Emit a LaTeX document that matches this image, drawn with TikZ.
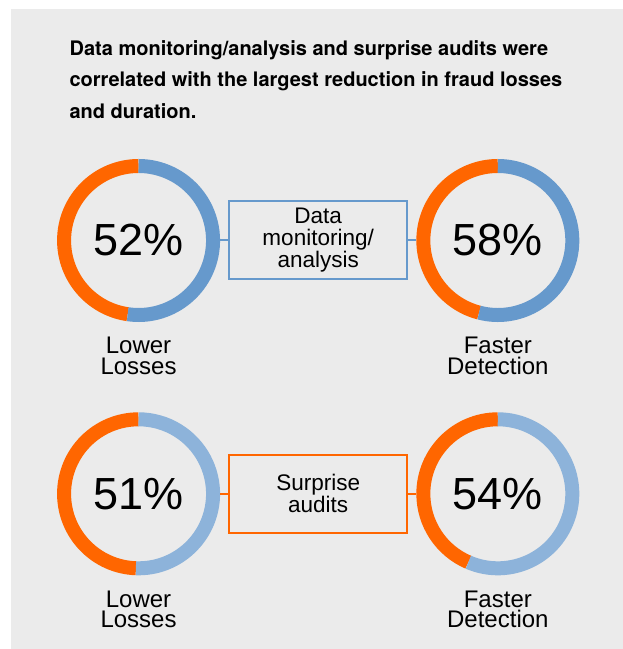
\documentclass[tikz,border=0pt]{standalone}
\usepackage{fontspec}
\setmainfont{Liberation Sans}
\newfontfamily\headfont{TeX Gyre Heros}
\usepackage{xcolor}
\definecolor{colorBack}{HTML}{EBEBEB}
\definecolor{colorOrange}{HTML}{FF6600}
\definecolor{colorBlue}{HTML}{6699CC}
\definecolor{colorLightBlue}{HTML}{8DB3DA}
\usetikzlibrary{positioning}
\tikzset{ring/.style={circle, minimum size=122.25pt, inner sep=0pt, font=\fontsize{33.75pt}{40pt}\selectfont}}

\begin{document}
\begin{tikzpicture}[x=0.75pt, y=0.75pt, box/.style={draw, line width=1.5pt, minimum width=133.3pt, minimum height=58.5pt, inner sep=0pt, align=center, font=\fontsize{16.9pt}{16.5pt}\selectfont}, lbl/.style={inner sep=0pt, align=center, font=\fontsize{18pt}{15.6pt}\selectfont}, arc/.style={line width=10.5pt}, link/.style={line width=1.5pt}]
\useasboundingbox (0,0) rectangle (623,649);
\fill[colorBack] (11,0) rectangle (623,640);
\node[anchor=north west, inner sep=0pt, align=left, font=\headfont\bfseries\fontsize{15pt}{23.8pt}\selectfont] (title) at (69.3,609) {Data monitoring/analysis and surprise audits were\\correlated with the largest reduction in fraud losses\\and duration.};
\node[box, draw=colorBlue] (b1) at (318.2,408.5) {Data\\monitoring/\\analysis};
\node[box, draw=colorOrange] (b2) at (318.2,155.2) {Surprise\\audits};
\node[ring, left=6pt of b1] (r11) {52\%};
\node[ring, right=6pt of b1] (r12) {58\%};
\node[ring, left=6pt of b2] (r21) {51\%};
\node[ring, right=6pt of b2] (r22) {54\%};
\draw[arc, colorOrange] ([shift={(90:74.5)}]r11.center) arc[start angle=90, end angle=261.6, radius=74.5];
\draw[arc, colorBlue] ([shift={(261.6:74.5)}]r11.center) arc[start angle=261.6, end angle=450, radius=74.5];
\draw[arc, colorOrange] ([shift={(90:74.5)}]r12.center) arc[start angle=90, end angle=255.4, radius=74.5];
\draw[arc, colorBlue] ([shift={(255.4:74.5)}]r12.center) arc[start angle=255.4, end angle=450, radius=74.5];
\draw[arc, colorOrange] ([shift={(90:74.5)}]r21.center) arc[start angle=90, end angle=268, radius=74.5];
\draw[arc, colorLightBlue] ([shift={(268:74.5)}]r21.center) arc[start angle=268, end angle=450, radius=74.5];
\draw[arc, colorOrange] ([shift={(90:74.5)}]r22.center) arc[start angle=90, end angle=246.7, radius=74.5];
\draw[arc, colorLightBlue] ([shift={(246.7:74.5)}]r22.center) arc[start angle=246.7, end angle=450, radius=74.5];
\draw[link, colorBlue] (r11) -- (b1);
\draw[link, colorBlue] (b1) -- (r12);
\draw[link, colorOrange] (r21) -- (b2);
\draw[link, colorOrange] (b2) -- (r22);
\node[lbl, below=11pt of r11] (l11) {Lower\\Losses};
\node[lbl, below=11pt of r12] (l12) {Faster\\Detection};
\node[lbl, below=11pt of r21] (l21) {Lower\\Losses};
\node[lbl, below=11pt of r22] (l22) {Faster\\Detection};
\end{tikzpicture}
\end{document}
